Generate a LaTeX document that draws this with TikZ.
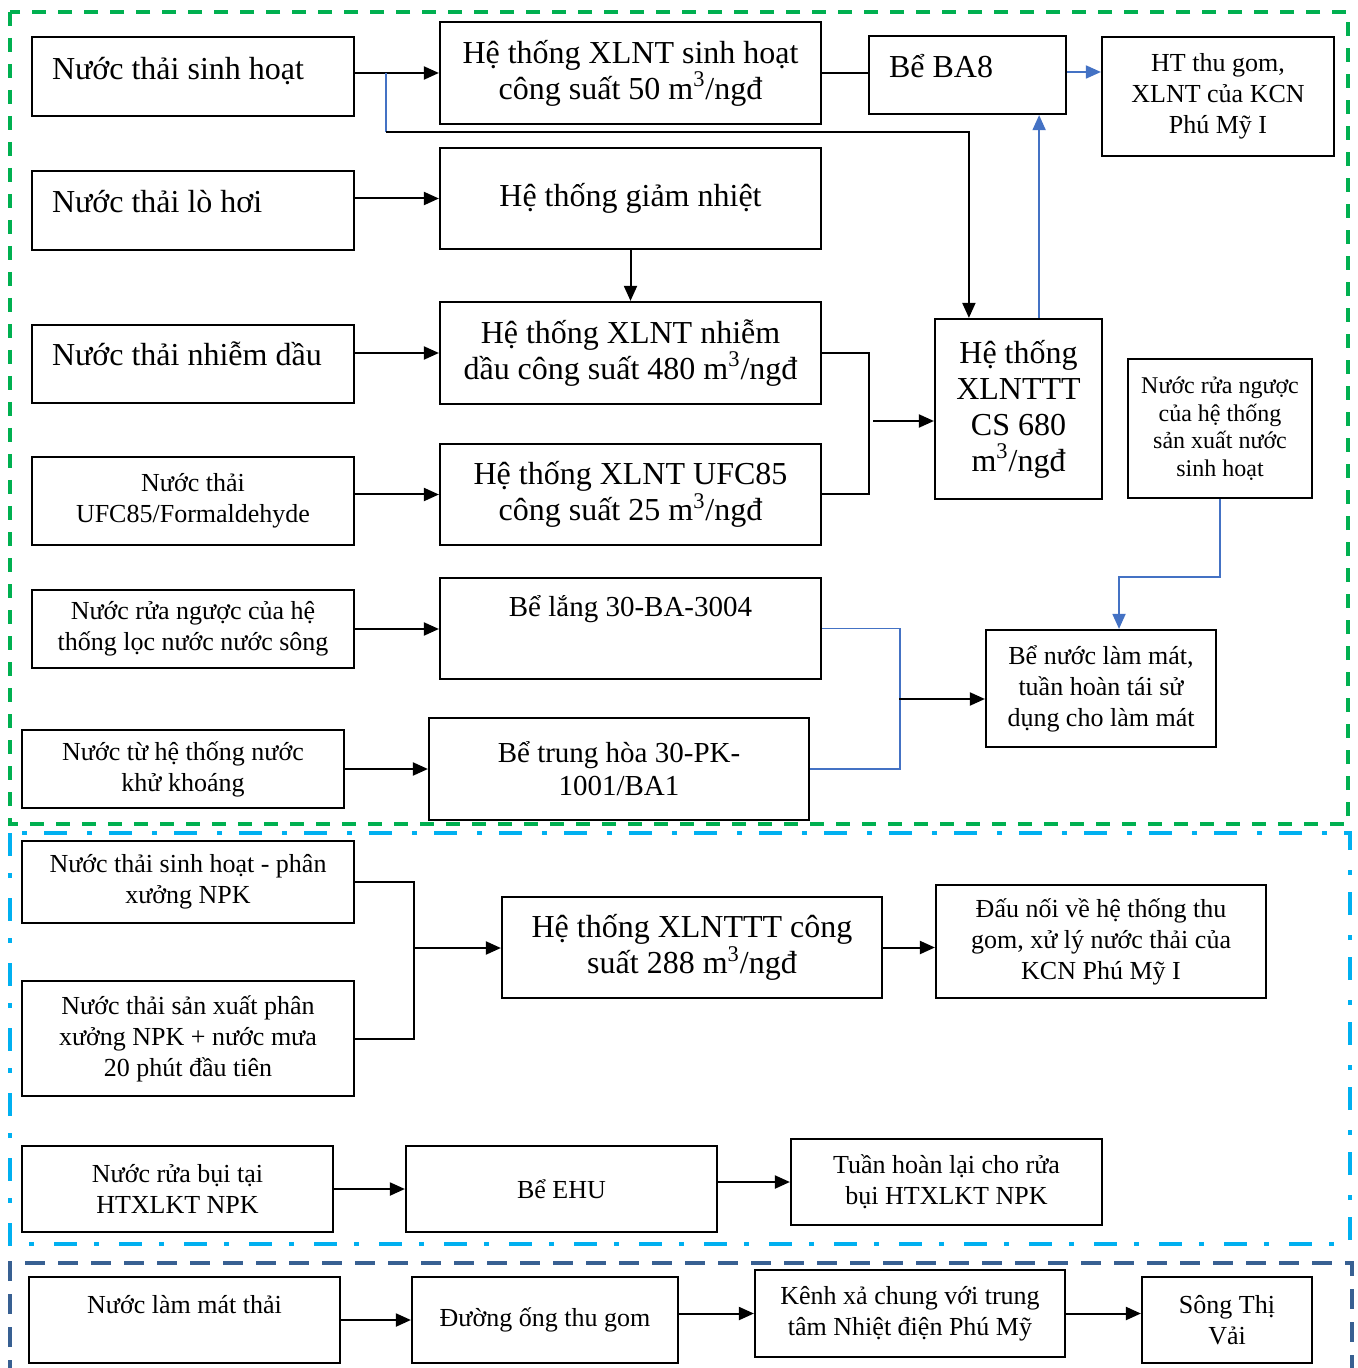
\documentclass[tikz,border=0pt]{standalone}
\usepackage{fontspec}
\setmainfont{Liberation Serif}
\usepackage{tikz}
\usetikzlibrary{arrows.meta,positioning}
\usepackage{xcolor}
\definecolor{framegreen}{RGB}{0,176,80}
\definecolor{framecyan}{RGB}{0,176,240}
\definecolor{framenavy}{RGB}{56,96,146}
\definecolor{flowblue}{RGB}{68,114,196}

\begin{document}
\begin{tikzpicture}[x=0.5pt, y=-0.5pt,
      every node/.style={font=\fontsize{13}{15.5}\selectfont},
      bigtxt/.style={font=\fontsize{16}{18}\selectfont},
      midtxt/.style={font=\fontsize{14.5}{16.5}\selectfont},
      smalltxt/.style={font=\fontsize{12}{13.75}\selectfont},
      box/.style={
        rectangle, draw, line width=1.1pt, inner sep=2pt,
        align=center
      },
      lefttxt/.style={align=flush left, text width=#1},
      arr/.style={-{Triangle[length=7.5pt,width=6.5pt]}, line width=1pt},
      link/.style={line width=1pt},
      barr/.style={-{Triangle[length=7.5pt,width=6.5pt]}, line width=0.9pt, draw=flowblue},
      bline/.style={line width=0.9pt, draw=flowblue},
      frame/.style={line width=1.6pt}
    ]
    \useasboundingbox (0,0) rectangle (1357,1368);

    % ===== Frames of the three groups =====
    \draw[frame, framegreen, dash pattern=on 7pt off 6pt] (10,12) rectangle (1348,824);
    \draw[frame, framecyan, dash pattern=on 11.5pt off 8.5pt on 2.5pt off 10pt] (10,833) rectangle (1350,1244);
    \draw[frame, framenavy, dash pattern=on 10pt off 6.5pt] (10,1380) -- (10,1263) -- (1352,1263) -- (1352,1380);

    % ===== Top group: sources and treatment systems =====
    \node[box, bigtxt, lefttxt=141pt, text depth=8.5pt, minimum width=161pt, minimum height=39.5pt] (nsh) at (193,76.5) {Nước thải sinh hoạt};
    \node[box, bigtxt, minimum width=190.5pt, minimum height=51pt] (xl50) at (630.5,73) {Hệ thống XLNT sinh hoạt\\công suất 50 m\textsuperscript{3}/ngđ};
    \node[box, bigtxt, lefttxt=78.5pt, text depth=9.5pt, minimum width=98.5pt, minimum height=39pt] (ba8) at (967.5,75) {Bể BA8};
    \node[box, minimum width=116pt, minimum height=59.5pt] (kcn) at (1218,96.5) {HT thu gom,\\XLNT của KCN\\Phú Mỹ I};

    \node[box, bigtxt, lefttxt=141pt, text depth=9.5pt, minimum width=161pt, minimum height=39.5pt] (nlh) at (193,210.5) {Nước thải lò hơi};
    \node[box, bigtxt, minimum width=190.5pt, minimum height=50.5pt] (gnh) at (630.5,198.5) {Hệ thống giảm nhiệt};

    \node[box, bigtxt, lefttxt=141pt, text depth=10.5pt, minimum width=161pt, minimum height=39pt] (nnd) at (193,364) {Nước thải nhiễm dầu};
    \node[box, bigtxt, minimum width=190.5pt, minimum height=51pt] (xl480) at (630.5,353) {Hệ thống XLNT nhiễm\\dầu công suất 480 m\textsuperscript{3}/ngđ};
    \node[box, bigtxt, minimum width=83.5pt, minimum height=90pt] (xl680) at (1018.5,409) {Hệ thống\\XLNTTT\\CS 680\\m\textsuperscript{3}/ngđ};
    \node[box, smalltxt, minimum width=92pt, minimum height=69.5pt] (rnsh) at (1220,428.5) {Nước rửa ngược\\của hệ thống\\sản xuất nước\\sinh hoạt};

    \node[box, minimum width=161pt, minimum height=44pt] (nufc) at (193,501) {Nước thải\\UFC85/Formaldehyde};
    \node[box, bigtxt, minimum width=190.5pt, minimum height=50.5pt] (xlufc) at (630.5,494.5) {Hệ thống XLNT UFC85\\công suất 25 m\textsuperscript{3}/ngđ};

    \node[box, minimum width=161pt, minimum height=39pt] (nrs) at (193,629) {Nước rửa ngược của hệ\\thống lọc nước nước sông};
    \node[box, midtxt, text depth=23pt, minimum width=190.5pt, minimum height=50.5pt] (blang) at (630.5,628.5) {Bể lắng 30-BA-3004};
    \node[box, minimum width=115pt, minimum height=58.5pt] (bmat) at (1101,688.5) {Bể nước làm mát,\\tuần hoàn tái sử\\dụng cho làm mát};

    \node[box, minimum width=161pt, minimum height=39pt] (nkk) at (183,769) {Nước từ hệ thống nước\\khử khoáng};
    \node[box, midtxt, minimum width=190pt, minimum height=51pt] (bth) at (619,769) {Bể trung hòa 30-PK-\\1001/BA1};

    % ===== Middle group: NPK workshop =====
    \node[box, minimum width=166pt, minimum height=41pt] (npk1) at (188,882) {Nước thải sinh hoạt - phân\\xưởng NPK};
    \node[box, minimum width=166pt, minimum height=57.5pt] (npk2) at (188,1038.5) {Nước thải sản xuất phân\\xưởng NPK + nước mưa\\20 phút đầu tiên};
    \node[box, bigtxt, minimum width=190pt, minimum height=50.5pt] (xl288) at (692,947.5) {Hệ thống XLNTTT công\\suất 288 m\textsuperscript{3}/ngđ};
    \node[box, minimum width=165pt, minimum height=56.5pt] (dnoi) at (1101,941.5) {Đấu nối về hệ thống thu\\gom, xử lý nước thải của\\KCN Phú Mỹ I};

    \node[box, minimum width=155.5pt, minimum height=43pt] (nrb) at (177.5,1189) {Nước rửa bụi tại\\HTXLKT NPK};
    \node[box, minimum width=155.5pt, minimum height=43pt] (ehu) at (561.5,1189) {Bể EHU};
    \node[box, minimum width=155.5pt, minimum height=43pt] (thl) at (946.5,1182) {Tuần hoàn lại cho rửa\\bụi HTXLKT NPK};

    % ===== Bottom group: cooling water =====
    \node[box, text depth=16pt, minimum width=155.5pt, minimum height=43pt] (nlm) at (184.5,1320) {Nước làm mát thải};
    \node[box, minimum width=133pt, minimum height=43pt] (dong) at (545,1320) {Đường ống thu gom};
    \node[box, minimum width=155pt, minimum height=43.5pt] (kenh) at (910,1313.5) {Kênh xả chung với trung\\tâm Nhiệt điện Phú Mỹ};
    \node[box, minimum width=85pt, minimum height=43pt] (stv) at (1227,1320) {Sông Thị\\Vải};

    % ===== Arrows: top group =====
    \draw[arr] (nsh.east |- xl50) -- (xl50.west);
    \coordinate (sp1) at (386,73);
    \coordinate (sp2) at (386,132);
    \draw[bline] (sp1) -- (sp2);
    \draw[arr] (sp2) -| ([xshift=17.5pt]xl680.north west);
    \draw[link] (xl50.east) -- (xl50.east -| ba8.west);
    \draw[barr] ([yshift=1.5pt]ba8.east) -- ([yshift=1.5pt]ba8.east -| kcn.west);
    \coordinate (ba8in) at ([xshift=-14pt]ba8.south east);
    \draw[barr] (xl680.north -| ba8in) -- (ba8in);

    \draw[arr] (nlh.east |- gnh) -- (gnh.west);
    \draw[arr] (gnh.south) -- (xl480.north);
    \draw[arr] (nnd.east |- xl480) -- (xl480.west);
    \draw[link] (xl480.east) -- ++(47,0) |- (xlufc.east);
    \coordinate (j1) at (873,421);
    \draw[arr] (j1) -- (j1 -| xl680.west);
    \draw[arr] (nufc.east |- xlufc) -- (xlufc.west);
    \draw[barr] (rnsh.south) -- ++(0,78) -| ([xshift=9pt]bmat.north);

    \draw[arr] (nrs.east) -- (nrs.east -| blang.west);
    \draw[bline] (blang.east) -- ++(78,0) |- (bth.east);
    \coordinate (j2) at (899,699);
    \draw[arr] (j2) -- (j2 -| bmat.west);
    \draw[arr] (nkk.east) -- (nkk.east -| bth.west);

    % ===== Arrows: middle group =====
    \draw[link] (npk1.east) -- ++(59,0) |- (npk2.east);
    \coordinate (j3) at (415,948);
    \draw[arr] (j3) -- (j3 -| xl288.west);
    \draw[arr] (xl288.east) -- (xl288.east -| dnoi.west);
    \draw[arr] (nrb.east) -- (nrb.east -| ehu.west);
    \draw[arr] (ehu.east |- thl) -- (thl.west);

    % ===== Arrows: bottom group =====
    \draw[arr] (nlm.east) -- (nlm.east -| dong.west);
    \draw[arr] (dong.east |- kenh) -- (kenh.west);
    \draw[arr] (kenh.east) -- (kenh.east -| stv.west);
  \end{tikzpicture}
\end{document}
